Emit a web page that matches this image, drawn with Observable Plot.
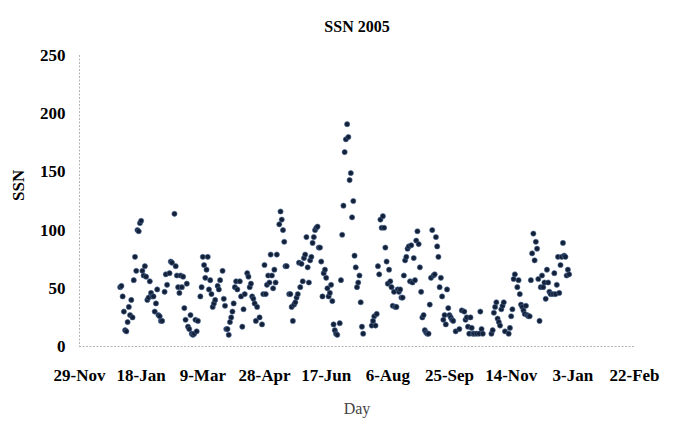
<!DOCTYPE html>
<html>
<head>
<meta charset="utf-8">
<script src="https://cdn.jsdelivr.net/npm/d3@7"></script>
<script src="https://cdn.jsdelivr.net/npm/@observablehq/plot@0.6"></script>
<style>
  html, body { margin: 0; padding: 0; background: #fff; }
</style>
</head>
<body>
<div id="chart"></div>
<script>
// Day of year (0 = 1 Jan 2005) and daily sunspot number
const dayOfYear = [
  0,1,2,3,4,5,6,7,8,9,10,11,12,13,14,15,16,17,18,19,20,21,22,23,24,25,26,27,28,29,
  30,31,32,33,34,36,37,38,40,41,42,44,45,46,47,48,49,50,51,52,53,54,55,56,57,58,59,60,
  61,62,63,65,66,67,68,69,70,71,72,73,74,75,76,77,79,80,81,83,84,85,86,87,88,89,90,
  91,92,93,94,95,97,98,99,100,101,103,104,105,106,107,108,109,110,111,113,115,116,117,
  118,119,120,121,122,123,124,125,126,127,129,130,131,132,133,134,135,137,138,139,140,
  141,142,143,144,145,146,147,148,149,150,151,152,153,154,155,156,157,158,159,160,161,
  162,163,164,165,166,167,168,169,170,171,172,173,174,175,176,178,179,180,181,182,183,
  184,185,186,187,188,189,190,191,192,193,194,195,196,197,204,205,206,207,208,209,210,
  211,212,213,214,215,216,217,218,219,220,221,222,223,224,225,226,227,228,229,230,231,
  232,233,234,235,236,237,238,239,240,241,242,243,244,245,246,247,248,249,250,251,252,
  253,254,255,256,257,258,259,260,261,262,263,264,265,266,267,268,269,270,272,275,277,
  279,280,281,282,283,284,285,286,287,289,291,292,293,294,301,302,303,304,305,306,307,
  308,309,310,311,312,315,316,317,318,319,320,322,323,324,325,326,327,328,329,330,331,
  332,333,334,335,336,337,338,339,340,341,342,343,344,345,346,347,348,349,351,352,353,
  354,355,356,357,358,359,360,361,362,363,364
];
const ssn = [
  51,52,43,30,14,13,21,34,27,40,25,57,77,65,100,99,106,108,65,61,69,60,40,42,56,46,43,43,30,37,
  49,27,26,22,22,47,62,53,63,73,72,114,69,61,51,46,61,51,60,33,23,54,17,15,27,11,10,11,
  23,13,22,43,51,77,70,59,66,77,49,57,45,34,37,40,52,49,57,65,41,35,15,15,10,21,25,
  30,37,51,56,49,56,43,17,32,45,63,60,51,54,43,41,37,22,34,25,19,45,70,
  45,53,61,55,79,61,50,66,55,79,105,116,109,100,90,69,69,45,45,34,22,
  36,38,42,45,72,51,71,56,76,79,94,68,55,74,77,89,94,100,102,103,85,
  85,73,43,63,66,59,50,43,46,53,39,19,14,11,10,20,57,96,121,167,178,
  191,180,143,149,111,125,78,68,51,55,61,38,17,11,18,22,26,18,28,69,62,
  109,102,112,102,85,73,54,66,56,51,35,47,34,34,49,47,49,42,42,61,74,
  77,84,86,56,87,55,76,57,91,99,88,68,47,25,27,14,12,11,11,36,59,
  100,61,62,94,86,77,51,59,43,23,27,19,49,33,27,25,23,22,13,15,31,
  30,23,25,17,11,25,16,11,11,11,11,30,15,11,11,14,29,34,38,24,21,
  18,32,35,38,13,11,16,26,32,58,62,51,57,45,36,34,31,28,35,27,26,
  26,57,80,97,74,90,84,58,22,51,61,51,55,41,66,55,47,45,45,63,45,
  53,77,46,70,77,89,78,77,61,66,62
];
// Axis tick dates (every 50 days) and value ticks
const xTickDates = ["2004-11-29","2005-01-18","2005-03-09","2005-04-28","2005-06-17",
                    "2005-08-06","2005-09-25","2005-11-14","2006-01-03","2006-02-22"];
const yTicks = [0, 50, 100, 150, 200, 250];
const titleText = "SSN 2005";
const yLabel = "SSN";
const xLabel = "Day";

const data = dayOfYear.map((d, i) => ({
  date: new Date(Date.UTC(2005, 0, 1 + d)),
  ssn: ssn[i]
}));
const xTicks = xTickDates.map(s => new Date(s + "T00:00:00Z"));
const xDomain = [xTicks[0], xTicks[xTicks.length - 1]];

const chart = Plot.plot({
  width: 679,
  height: 430,
  marginTop: 55,
  marginBottom: 84,
  marginLeft: 79,
  marginRight: 45,
  style: { fontFamily: "'Liberation Serif', 'Times New Roman', serif", background: "#fff", color: "#000" },
  x: { type: "utc", domain: xDomain },
  y: { domain: [0, 250] },
  marks: [
    Plot.ruleY([0], { stroke: "#b4b4b4", strokeDasharray: "2,1.5" }),
    Plot.ruleX([xDomain[0]], { stroke: "#b4b4b4", strokeDasharray: "2,1.5" }),
    Plot.axisX({ ticks: xTicks, tickFormat: d3.utcFormat("%-d-%b"), tickSize: 0, tickPadding: 22,
                 fontSize: 17, fontWeight: "bold", label: null }),
    Plot.axisY({ ticks: yTicks, tickSize: 0, tickPadding: 14, fontSize: 17, fontWeight: "bold", label: null }),
    Plot.dot(data, { x: "date", y: "ssn", r: 2.6, fill: "#142035", stroke: "#4a6a9a", strokeWidth: 0.6 }),
    Plot.text([titleText], { frameAnchor: "top", dy: -35, fontSize: 16, fontWeight: "bold", fill: "#000" }),
    Plot.text([yLabel], { frameAnchor: "left", dx: -61, rotate: -90, fontSize: 17, fontWeight: "bold", fill: "#000" }),
    Plot.text([xLabel], { frameAnchor: "bottom", dy: 67, fontSize: 16, fill: "#444" })
  ]
});
document.getElementById("chart").appendChild(chart);
</script>
</body>
</html>
